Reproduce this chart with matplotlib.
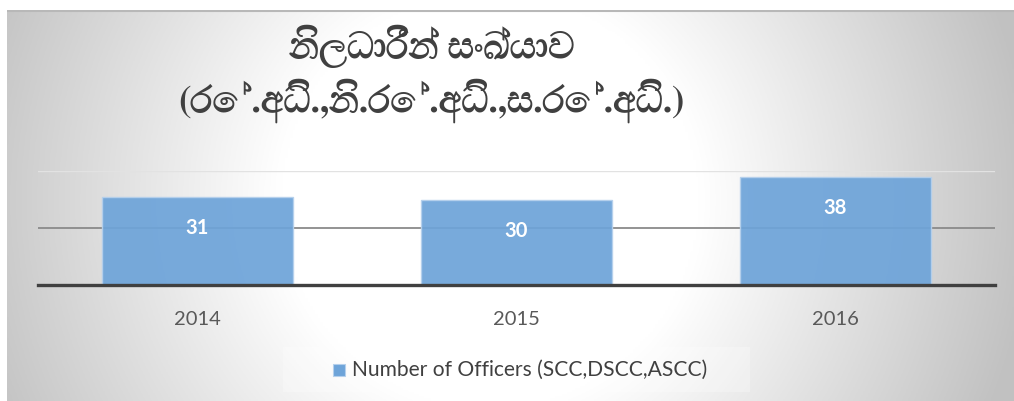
import numpy as np
import matplotlib
matplotlib.use("Agg")
import matplotlib.pyplot as plt
from matplotlib import font_manager
from matplotlib.ft2font import FT2Font
from matplotlib.patches import Rectangle

# ---------------- data ----------------
years = ["2014", "2015", "2016"]
officers = [31, 30, 38]
series_name = "Number of Officers (SCC,DSCC,ASCC)"
title_line1 = "නිලධාරීන් සංඛ්යාව"
title_line2 = "(රේ.අධි.,නි.රේ.අධි.,ස.රේ.අධි.)"
y_ticks = [0, 20, 40]

# ---------------- fonts ----------------
def find_font(codepoint):
    hits = []
    for fe in font_manager.fontManager.ttflist:
        try:
            if codepoint in FT2Font(fe.fname).get_charmap():
                hits.append(fe)
        except Exception:
            pass
    if not hits:
        return None, "normal"
    bold = [h for h in hits if isinstance(h.weight, int) and h.weight >= 600
            or h.weight in ("bold", "semibold", "demibold", "heavy", "black")]
    if bold:
        return bold[0].name, "bold"
    return hits[0].name, "bold"

sin_family, sin_weight = find_font(0x0DB1)
base_font = "Lato"
title_families = ([sin_family] if sin_family else []) + ["DejaVu Sans"]

W, H = 1014, 401
fig = plt.figure(figsize=(W / 100, H / 100), dpi=100)
fig.patch.set_facecolor("white")

# ---------------- background gradient ----------------
bx0, by_top = 7, 10
bg = fig.add_axes([bx0 / W, 0, 1 - bx0 / W, (H - by_top) / H])
bg.set_axis_off()
xs = np.linspace(bx0, W, 400)
ys = np.linspace(by_top, H, 200)
X, Y = np.meshgrid(xs, ys)
cx, cy = 490, 200
r = np.sqrt((X - cx) ** 2 + (Y - cy) ** 2) / 500.0
f = np.clip((r - 0.42) / 0.58, 0, 1.15)
val = 1 - 0.21 * f
img = np.dstack([val, val, val])
bg.imshow(img, extent=[0, 1, 0, 1], aspect="auto", origin="upper", zorder=0)
bg.set_xlim(0, 1)
bg.set_ylim(0, 1)
bg.plot([0, 1], [0.997, 0.997], color="#b8b8b8", lw=1.5, transform=bg.transAxes)

# ---------------- plot area ----------------
pl, pr, pt, pb = 38, 995, 171, 285
ax = fig.add_axes([pl / W, (H - pb) / H, (pr - pl) / W, (pb - pt) / H])
ax.patch.set_alpha(0)
x = np.arange(len(years))
ax.set_xlim(-0.5, len(years) - 0.5)
ax.set_ylim(y_ticks[0], y_ticks[-1])

ax.axhline(y_ticks[1], color="#8a8a8a", lw=1.3, zorder=1)
ax.axhline(y_ticks[2], color="#e2e2e2", lw=1.0, zorder=1)

bars = ax.bar(x, officers, width=0.6, color="#6ea4d9", edgecolor="#b5d0ec",
              linewidth=1.0, alpha=0.93, zorder=2)
ax.axhline(y_ticks[0], color="#404040", lw=2.4, zorder=3, clip_on=False)

for xi, v in zip(x, officers):
    ax.annotate(str(v), (xi, v), xytext=(0, -22.5), textcoords="offset points",
                ha="center", va="center", color="white", fontsize=14.5,
                fontweight="bold", family=base_font, zorder=4)

for s in ax.spines.values():
    s.set_visible(False)
ax.set_yticks([])
ax.set_xticks(x)
ax.set_xticklabels(years, fontsize=14.5, color="#595959", family=base_font)
ax.tick_params(axis="x", length=0, pad=19)

# ---------------- title ----------------
fig.text(432 / W, 1 - 46 / H, title_line1, ha="center", va="center",
         fontsize=26.5, fontweight=sin_weight, color="#404040", family=title_families)
fig.text(431 / W, 1 - 101 / H, title_line2, ha="center", va="center",
         fontsize=26.5, fontweight=sin_weight, color="#404040", family=title_families)

# ---------------- legend ----------------
lb = fig.add_axes([0, 0, 1, 1], zorder=5)
lb.set_axis_off()
lb.set_xlim(0, W)
lb.set_ylim(H, 0)
lb.add_patch(Rectangle((283, 347), 467, 45, facecolor="white", alpha=0.25,
                       edgecolor="none"))
lb.add_patch(Rectangle((333, 364), 12, 12, facecolor="#6ea4d9",
                       edgecolor="#b5d0ec", lw=0.8))
lb.text(352, 370, series_name, ha="left", va="center", fontsize=15.1,
        color="#404040", family=base_font)

fig.savefig("out.png", dpi=100, facecolor="white")
